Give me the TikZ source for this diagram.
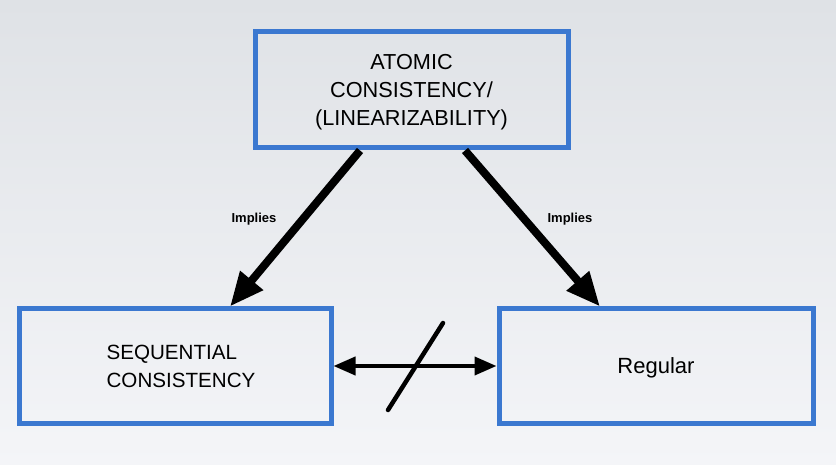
\documentclass[tikz,border=0pt]{standalone}
\usepackage{fontspec}
\setmainfont{Liberation Sans}
\usepackage[dvipsnames]{xcolor}
\usetikzlibrary{arrows.meta}
\usetikzlibrary{calc}
\usetikzlibrary{positioning}

\definecolor{boxblue}{HTML}{3B78D0}
\definecolor{bgtop}{HTML}{DFE2E6}
\definecolor{bgbottom}{HTML}{F4F5F8}

\begin{document}
\begin{tikzpicture}[x=1pt, y=-1pt,
    levelbox/.style={draw=boxblue, line width=5pt, align=center, text depth=0pt, font=\fontsize{21.7}{28}\selectfont},
    implies/.style={line width=8pt, -{Triangle[length=34pt, width=28pt]}},
    twoway/.style={line width=4pt, {Triangle[length=22pt, width=18pt]}-{Triangle[length=22pt, width=18pt]}},
    lbl/.style={font=\fontsize{13}{15}\selectfont\bfseries}]
            \fill[top color=bgtop, bottom color=bgbottom] (0,0) rectangle (836,465);
            \useasboundingbox (0,0) rectangle (836,465);

            \draw (411.5,90) node[levelbox, minimum width=313pt, minimum height=116pt] (atomic) {ATOMIC\\CONSISTENCY/\\(LINEARIZABILITY)};
            \draw (175,366) node[levelbox, align=left, font=\fontsize{20.6}{28}\selectfont, minimum width=312pt, minimum height=114pt]  (seq) {\hspace*{12pt}SEQUENTIAL\\\hspace*{12pt}CONSISTENCY};
            \draw (656,366) node[levelbox, font=\fontsize{22}{28}\selectfont, minimum width=314pt, minimum height=114pt]  (regular) {Regular};

            \draw[implies] ([xshift=-51.5pt]atomic.south) -- ([xshift=55pt]seq.north);
            \draw[implies] ([xshift=53.5pt]atomic.south) -- ([xshift=-56pt]regular.north);
            \draw (254,219) node[lbl] (implA) {Implies};
            \draw (570,219) node[lbl] (implB) {Implies};

            \draw[twoway] (seq.east) -- (regular.west);
            \coordinate (slashlow) at (388,410);
            \coordinate (slashhigh) at (443,323);
            \draw[line width=4.5pt, line cap=round] (slashlow) -- (slashhigh);

            \end{tikzpicture}
\end{document}
